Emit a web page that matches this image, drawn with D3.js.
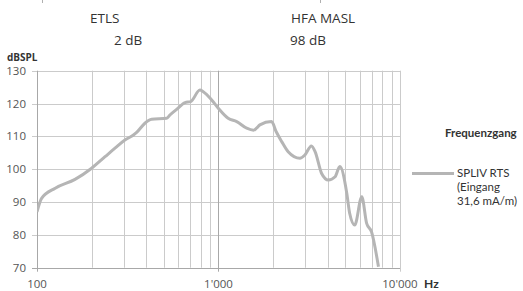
<!DOCTYPE html>
<html>
<head>
<meta charset="utf-8">
<script src="https://cdn.jsdelivr.net/npm/d3@7"></script>
<style>
  body{margin:0;background:#fff;}
  svg{display:block;}
</style>
</head>
<body>
<script>
// frequency response data
var freqs=[100,106,126,162,200,237,269,305,340,354,393,428,518,540,588,654,703,790,824,917,1000,1130,1260,1430,1560,1620,1690,1960,2080,2230,2420,2810,2990,3250,3410,3700,4030,4390,4660,5090,5280,5630,6160,6550,6960,7610];
var spl=[87.0,91.1,94.2,96.9,100.3,103.8,106.4,108.9,110.4,111.2,114.0,115.2,115.5,116.5,118.2,120.3,120.6,124.1,123.6,121.1,118.5,115.5,114.5,112.5,111.9,112.5,113.5,114.5,111.4,108.4,105.3,103.3,104.3,107.1,105.3,98.7,96.7,97.7,100.8,92.7,86.6,83.0,91.6,83.5,81.0,70.3];
var xGrid=[100,200,300,400,500,600,700,800,900,1000,2000,3000,4000,5000,6000,7000,8000,9000,10000];
var xLabels=[{v:100,t:'100'},{v:1000,t:"1'000"},{v:10000,t:"10'000"}];
var yTicks=[70,80,90,100,110,120,130];
var legendLines=['SPLIV RTS','(Eingang','31,6 mA/m)'];

var width=523,height=291;
var plotLeft=37,plotRight=400,plotTop=70.7,plotBottom=267.7;

var svg=d3.select('body').append('svg')
  .attr('width',width)
  .attr('height',height);

var x=d3.scaleLog().domain([100,10000]).range([plotLeft,plotRight]);
var y=d3.scaleLinear().domain([70,130]).range([plotBottom,plotTop]);

// small marks at the very top
[42,320].forEach(function(px){
  svg.append('line').attr('x1',px+0.5).attr('x2',px+0.5).attr('y1',0).attr('y2',3)
    .attr('stroke','#b0b0b0').attr('stroke-width',1);
});

// header texts
var head=svg.append('g').style('font-family','"Open Sans", sans-serif').style('font-size','13.5px').style('fill','#333');
head.append('text').attr('x',90).attr('y',23).text('ETLS');
head.append('text').attr('x',114).attr('y',45).text('2 dB');
head.append('text').attr('x',291).attr('y',23).text('HFA MASL');
head.append('text').attr('x',290).attr('y',45).text('98 dB');

// grid
svg.append('g').selectAll('line')
  .data(yTicks)
  .enter()
  .append('line')
  .attr('x1',plotLeft-5)
  .attr('x2',plotRight)
  .attr('y1',d=>Math.round(y(d))+0.5)
  .attr('y2',d=>Math.round(y(d))+0.5)
  .attr('stroke',d=>d==70?'#a8a8a8':'#cbcbcb')
  .attr('stroke-width',1);

svg.append('g').selectAll('line')
  .data(xGrid)
  .enter()
  .append('line')
  .attr('x1',d=>Math.round(x(d))+0.5)
  .attr('x2',d=>Math.round(x(d))+0.5)
  .attr('y1',plotTop)
  .attr('y2',d=>(d==100||d==1000||d==10000)?plotBottom+4:plotBottom)
  .attr('stroke',d=>(d==1000||d==100)?'#a8a8a8':'#cbcbcb')
  .attr('stroke-width',1);

// axis labels
var ax=svg.append('g').style('font-family','"Open Sans", sans-serif').style('font-size','11.5px').style('fill','#555');
ax.selectAll('.ylab')
  .data(yTicks)
  .enter()
  .append('text')
  .attr('x',26)
  .attr('y',d=>y(d))
  .attr('dy','0.35em')
  .attr('text-anchor','end')
  .text(d=>d);
ax.selectAll('.xlab')
  .data(xLabels)
  .enter()
  .append('text')
  .attr('x',d=>x(d.v))
  .attr('y',288)
  .attr('text-anchor','middle')
  .text(d=>d.t);

svg.append('text').attr('x',7).attr('y',61)
  .style('font-family','"Open Sans", sans-serif').style('font-size','10px').style('font-weight','bold').style('fill','#333')
  .text('dBSPL');
svg.append('text').attr('x',424).attr('y',288)
  .style('font-family','Lato, sans-serif').style('font-size','12px').style('font-weight','bold').style('fill','#333')
  .text('Hz');

// curve
svg.append('clipPath').attr('id','plotclip').append('rect')
  .attr('x',plotLeft).attr('y',plotTop-5).attr('width',plotRight-plotLeft).attr('height',plotBottom-plotTop+5);
var line=d3.line()
  .x((d,i)=>x(freqs[i]))
  .y(d=>y(d))
  .curve(d3.curveMonotoneX);
svg.append('path')
  .attr('d',line(spl))
  .attr('clip-path','url(#plotclip)')
  .attr('fill','none')
  .attr('stroke','#b5b5b5')
  .attr('stroke-width',3)
  .attr('stroke-linejoin','round');

// legend
var leg=svg.append('g').style('font-family','Lato, sans-serif').style('fill','#333');
leg.append('text').attr('x',445).attr('y',137).style('font-size','11.5px').style('font-weight','bold').text('Frequenzgang');
leg.append('line').attr('x1',412).attr('x2',454).attr('y1',173.5).attr('y2',173.5)
  .attr('stroke','#b5b5b5').attr('stroke-width',3);
leg.selectAll('.ll')
  .data(legendLines)
  .enter()
  .append('text')
  .attr('x',457)
  .attr('y',(d,i)=>177+i*14)
  .style('font-size','11.5px')
  .text(d=>d);
</script>
</body>
</html>
